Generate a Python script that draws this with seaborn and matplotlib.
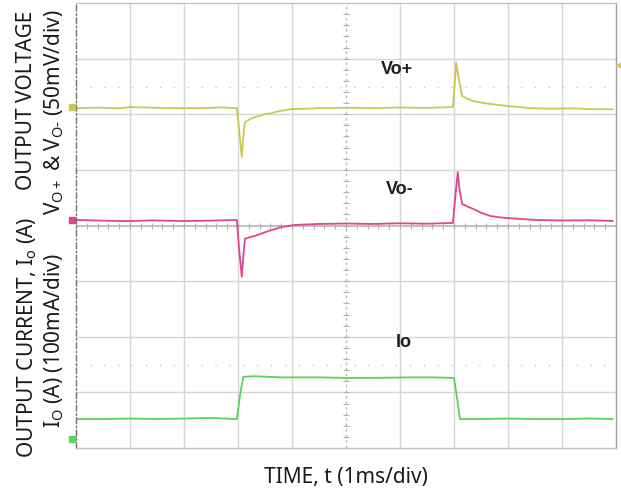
import numpy as np
import pandas as pd
import matplotlib
matplotlib.use("Agg")
import matplotlib.pyplot as plt
import seaborn as sns

# ---- measured traces (time in ms, 1 ms/div) ----
# Vo+ deviation in mV (50 mV/div)
t_vpos = [0.00, 0.40, 0.80, 1.00, 1.40, 1.80, 2.30, 2.70, 2.98, 3.02, 3.07, 3.11,
          3.13, 3.22, 3.31, 3.40, 3.50, 3.60, 3.69, 3.85, 4.00, 4.30, 4.52, 5.00,
          5.50, 6.00, 6.50, 6.98, 7.02, 7.04, 7.09, 7.15, 7.25, 7.35, 7.50, 7.67,
          7.85, 7.98, 8.20, 8.40, 8.80, 9.20, 9.60, 9.94]
v_pos = [-1.0, -0.5, -1.2, 0.0, -0.6, -1.0, -1.0, -0.4, -1.0, -20.0, -45.0, -20.0,
         -13.5, -11.0, -9.0, -8.0, -6.3, -5.8, -4.5, -3.0, -1.8, -1.5, -1.0, -0.6,
         -1.0, -0.4, -0.8, 0.0, 25.0, 40.0, 25.0, 10.0, 7.5, 5.4, 4.0, 2.7,
         1.8, 0.9, 0.0, -1.0, -1.5, -1.2, -2.0, -2.0]

# Vo- deviation in mV (50 mV/div)
t_vneg = [0.00, 0.40, 0.80, 1.00, 1.40, 2.00, 2.50, 2.98, 3.02, 3.07, 3.11, 3.13,
          3.22, 3.31, 3.45, 3.56, 3.70, 3.81, 4.06, 4.50, 5.00, 5.50, 6.00, 6.50,
          6.98, 7.02, 7.07, 7.10, 7.15, 7.25, 7.35, 7.50, 7.67, 7.80, 7.96, 8.20,
          8.50, 9.00, 9.50, 9.94]
v_neg = [0.0, -0.5, -1.0, -1.0, -0.4, -1.0, -0.6, 0.0, -26.0, -51.0, -26.0, -17.0,
         -15.5, -14.4, -12.0, -10.0, -8.0, -6.3, -4.5, -3.6, -3.2, -3.6, -3.0, -3.4,
         -2.7, 19.0, 43.0, 28.0, 14.4, 12.0, 10.0, 6.5, 3.6, 2.6, 1.8, 1.0,
         0.0, -0.5, -0.3, -0.9]

# Output current in mA (100 mA/div)
t_io = [0.00, 0.50, 1.00, 1.50, 2.00, 2.50, 2.98, 3.04, 3.10, 3.30, 3.80, 4.50,
        5.00, 5.50, 6.20, 6.60, 7.00, 7.06, 7.11, 7.50, 8.00, 8.50, 9.00, 9.50, 9.94]
i_o = [36.0, 36.0, 37.0, 36.0, 37.0, 38.0, 36.0, 81.0, 112.0, 113.0, 111.0, 111.0,
       110.0, 110.0, 111.0, 111.0, 110.0, 72.0, 36.0, 36.0, 37.0, 36.0, 36.0, 37.0, 36.0]

# ---- scope settings ----
N_XDIV, N_YDIV = 10, 8
V_PER_DIV = 50.0     # mV/div
I_PER_DIV = 100.0    # mA/div
POS_VPOS = 6.13      # channel positions (div from bottom)
POS_VNEG = 4.10
POS_IO = 0.16
REF_LEVELS = [6.49, 1.49]

YELLOW = "#c9c852"
MAGENTA = "#e2448e"
GREEN = "#5ad45a"

frames = []
for name, t, v, scale, pos in [
    ("Vo+", t_vpos, v_pos, V_PER_DIV, POS_VPOS),
    ("Vo-", t_vneg, v_neg, V_PER_DIV, POS_VNEG),
    ("Io", t_io, i_o, I_PER_DIV, POS_IO),
]:
    frames.append(pd.DataFrame({"t": t, "div": np.asarray(v) / scale + pos, "ch": name}))
df = pd.concat(frames, ignore_index=True)

sns.set_theme(style="white")
plt.rcParams["font.family"] = ["Noto Sans", "DejaVu Sans"]
plt.rcParams["mathtext.fontset"] = "custom"
plt.rcParams["mathtext.rm"] = "Noto Sans"

fig = plt.figure(figsize=(6.21, 4.89), dpi=100)
ax = fig.add_axes([76 / 621, 1 - 449 / 489, 540 / 621, 445 / 489])
ax.set_xlim(0, N_XDIV)
ax.set_ylim(0, N_YDIV)

# graticule
grid_c = "#d6d6d6"
for x in range(1, N_XDIV):
    if x != N_XDIV // 2:
        ax.axvline(x, color=grid_c, lw=1.0, zorder=0)
for y in range(1, N_YDIV):
    if y != N_YDIV // 2:
        ax.axhline(y, color=grid_c, lw=1.0, zorder=0)
ax.axvline(N_XDIV / 2, color="#bdbdbd", lw=1.0, ls=(0, (2, 2)), zorder=0)
ax.axhline(N_YDIV / 2, color="#b5b5b5", lw=1.2, zorder=0)
# center tick marks
minor = np.arange(0, N_XDIV + 0.01, 0.2)
ax.plot(minor, np.full_like(minor, N_YDIV / 2), ls="none", marker="|", ms=5,
        mew=0.8, color="#b0b0b0", zorder=0)
minor_y = np.arange(0, N_YDIV + 0.01, 0.2)
ax.plot(np.full_like(minor_y, N_XDIV / 2), minor_y, ls="none", marker="_", ms=5,
        mew=0.8, color="#b0b0b0", zorder=0)
for lvl in REF_LEVELS:
    ax.axhline(lvl, color="#c8c8c8", lw=1.0, ls=(0, (1, 9)), zorder=0)

sns.lineplot(data=df, x="t", y="div", hue="ch", palette=[YELLOW, MAGENTA, GREEN],
             linewidth=1.3, legend=False, ax=ax, estimator=None, sort=False)

for s in ["top", "right", "bottom"]:
    ax.spines[s].set_color("#c4c4c4")
    ax.spines[s].set_linewidth(1.0)
ax.spines["right"].set_color("#a0a0a0")
ax.spines["left"].set_color("#707070")
ax.spines["left"].set_linestyle((0, (4, 2, 1, 2)))
ax.spines["left"].set_linewidth(1.0)
ax.set_xticks([])
ax.set_yticks([])
ax.set_xlabel("")
ax.set_ylabel("")

# channel markers and trigger marker
for pos, c in [(POS_VPOS, YELLOW), (POS_VNEG, MAGENTA), (POS_IO, GREEN)]:
    ax.plot(-0.08, pos, marker="s", ms=4, color=c, clip_on=False, zorder=5)
ax.plot(10.05, 6.89, marker="<", ms=4, color="#d8d040", clip_on=False, zorder=5)

# trace labels
lab_kw = dict(fontsize=13, fontweight="bold", color="#1e1e1e",
              family=["Liberation Sans Narrow", "Liberation Sans", "DejaVu Sans"],
              ha="center", va="center")
ax.text(5.94, 6.82, "Vo+", **lab_kw)
ax.text(6.00, 4.66, "Vo-", **lab_kw)
ax.text(6.07, 1.91, "Io", **lab_kw)

txt_kw = dict(fontsize=15, color="#1a1a1a", rotation=90, ha="center", va="center")
fig.text(27 / 621, 1 - 100 / 489, "OUTPUT VOLTAGE", **txt_kw)
fig.text(54 / 621, 1 - 112 / 489,
         r"V$_{\mathrm{O+}}$ & V$_{\mathrm{O}\text{-}}$ (50mV/div)", **txt_kw)
fig.text(27 / 621, 1 - 337 / 489, r"OUTPUT CURRENT, I$_{\mathrm{o}}$ (A)", **txt_kw)
fig.text(54 / 621, 1 - 341 / 489, r"I$_{\mathrm{O}}$ (A) (100mA/div)", **txt_kw)
fig.text(346 / 621, 1 - 478 / 489, "TIME, t (1ms/div)", fontsize=15, color="#1a1a1a",
         ha="center", va="center")

fig.savefig("out.png", dpi=100, facecolor="white")
